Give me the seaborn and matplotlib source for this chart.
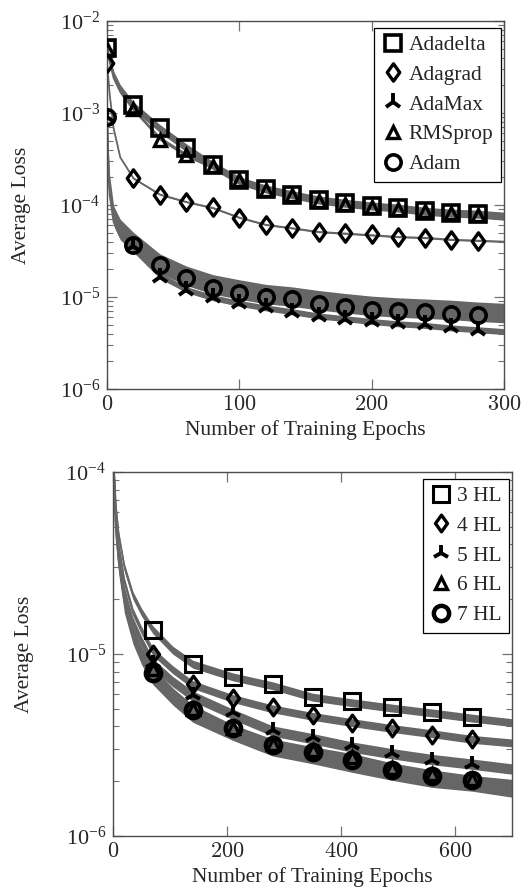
import numpy as np
import pandas as pd
import matplotlib
matplotlib.use("Agg")
import matplotlib.pyplot as plt
import matplotlib.ticker as mticker
from matplotlib.lines import Line2D
from matplotlib.path import Path
import seaborn as sns

# ---- top panel: optimisers ----
ep_top_line = [0, 1, 2, 5, 10, 20, 40, 60, 80, 100, 120, 140, 160, 180, 200, 220, 240, 260, 280, 300]
adadelta_line = [5.1e-3, 4.4e-3, 3.8e-3, 2.6e-3, 1.85e-3, 1.2e-3, 6.8e-4, 4.2e-4, 2.7e-4, 1.85e-4, 1.5e-4, 1.3e-4, 1.14e-4, 1.05e-4, 9.8e-5, 9.3e-5, 8.6e-5, 8.2e-5, 8.0e-5, 7.6e-5]
rmsprop_line = [5.0e-3, 4.2e-3, 3.6e-3, 2.4e-3, 1.7e-3, 1.1e-3, 5.3e-4, 3.5e-4, 2.6e-4, 1.8e-4, 1.45e-4, 1.27e-4, 1.1e-4, 1.02e-4, 9.5e-5, 9.0e-5, 8.4e-5, 8.0e-5, 7.7e-5, 7.3e-5]
adagrad_line = [3.5e-3, 2.4e-3, 1.6e-3, 6.8e-4, 3.3e-4, 1.95e-4, 1.3e-4, 1.08e-4, 9.3e-5, 7.3e-5, 6.1e-5, 5.6e-5, 5.1e-5, 4.9e-5, 4.7e-5, 4.5e-5, 4.4e-5, 4.2e-5, 4.1e-5, 4.0e-5]
adam_line = [9e-4, 3e-4, 1.5e-4, 7e-5, 5e-5, 3.6e-5, 2.1e-5, 1.55e-5, 1.25e-5, 1.1e-5, 9.8e-6, 9.2e-6, 8.4e-6, 7.8e-6, 7.3e-6, 7.0e-6, 6.8e-6, 6.6e-6, 6.3e-6, 6.1e-6]
adamax_line = [9e-4, 2.5e-4, 1.3e-4, 6.5e-5, 4.5e-5, 3.3e-5, 1.7e-5, 1.2e-5, 9.8e-6, 8.5e-6, 7.6e-6, 6.9e-6, 6.2e-6, 5.8e-6, 5.4e-6, 5.1e-6, 4.9e-6, 4.6e-6, 4.4e-6, 4.2e-6]

ep_top_mark = [0, 20, 40, 60, 80, 100, 120, 140, 160, 180, 200, 220, 240, 260, 280]
adadelta_mark = [5.1e-3, 1.23e-3, 6.9e-4, 4.2e-4, 2.7e-4, 1.86e-4, 1.5e-4, 1.29e-4, 1.13e-4, 1.05e-4, 9.8e-5, 9.3e-5, 8.6e-5, 8.2e-5, 8.0e-5]
adagrad_mark = [3.5e-3, 1.95e-4, 1.29e-4, 1.08e-4, 9.5e-5, 7.2e-5, 6.0e-5, 5.6e-5, 5.1e-5, 5.0e-5, 4.9e-5, 4.5e-5, 4.4e-5, 4.2e-5, 4.1e-5]
adamax_mark = [9.0e-4, 3.6e-5, 1.65e-5, 1.2e-5, 9.9e-6, 8.6e-6, 7.8e-6, 6.9e-6, 6.2e-6, 5.8e-6, 5.5e-6, 5.2e-6, 5.1e-6, 4.7e-6, 4.4e-6]
rmsprop_mark = [5.0e-3, 1.1e-3, 5.1e-4, 3.5e-4, 2.65e-4, 1.85e-4, 1.45e-4, 1.27e-4, 1.1e-4, 1.03e-4, 9.6e-5, 9.1e-5, 8.5e-5, 8.1e-5, 7.8e-5]
adam_mark = [9.1e-4, 3.7e-5, 2.2e-5, 1.6e-5, 1.25e-5, 1.1e-5, 9.9e-6, 9.4e-6, 8.4e-6, 7.8e-6, 7.2e-6, 7.0e-6, 6.8e-6, 6.6e-6, 6.3e-6]

# spread of the noisy curves (lower, upper factor)
top_spread = {"Adadelta": (0.9, 1.1), "Adagrad": (0.98, 1.02), "AdaMax": (0.93, 1.08),
              "RMSprop": (0.95, 1.05), "Adam": (0.86, 1.4)}

# ---- bottom panel: hidden layers ----
ep_bot_line = [2, 5, 10, 20, 35, 50, 70, 105, 140, 210, 280, 350, 420, 490, 560, 630, 700]
hl3_line = [1.0e-4, 6.5e-5, 4.5e-5, 3.0e-5, 2.1e-5, 1.7e-5, 1.36e-5, 1.05e-5, 8.8e-6, 7.5e-6, 6.7e-6, 5.8e-6, 5.4e-6, 5.05e-6, 4.75e-6, 4.45e-6, 4.2e-6]
hl4_line = [9.5e-5, 5.8e-5, 3.9e-5, 2.5e-5, 1.7e-5, 1.35e-5, 1.03e-5, 8.2e-6, 6.8e-6, 5.7e-6, 5.0e-6, 4.55e-6, 4.2e-6, 3.9e-6, 3.65e-6, 3.4e-6, 3.25e-6]
hl5_line = [9.0e-5, 5.3e-5, 3.5e-5, 2.2e-5, 1.5e-5, 1.18e-5, 8.9e-6, 7.1e-6, 5.9e-6, 4.7e-6, 3.8e-6, 3.45e-6, 3.1e-6, 2.85e-6, 2.65e-6, 2.5e-6, 2.35e-6]
hl6_line = [8.5e-5, 5.0e-5, 3.3e-5, 2.0e-5, 1.35e-5, 1.05e-5, 8.1e-6, 6.2e-6, 5.0e-6, 3.9e-6, 3.25e-6, 2.95e-6, 2.7e-6, 2.4e-6, 2.2e-6, 2.05e-6, 1.95e-6]
hl7_line = [8.5e-5, 4.8e-5, 3.2e-5, 1.95e-5, 1.32e-5, 1.02e-5, 7.9e-6, 6.1e-6, 4.9e-6, 3.9e-6, 3.2e-6, 2.9e-6, 2.6e-6, 2.35e-6, 2.15e-6, 2.05e-6, 1.9e-6]

ep_bot_mark = [70, 140, 210, 280, 350, 420, 490, 560, 630]
hl3_mark = [1.36e-5, 8.8e-6, 7.5e-6, 6.8e-6, 5.8e-6, 5.5e-6, 5.1e-6, 4.8e-6, 4.5e-6]
hl4_mark = [1.0e-5, 6.8e-6, 5.7e-6, 5.1e-6, 4.6e-6, 4.2e-6, 3.9e-6, 3.6e-6, 3.4e-6]
hl5_mark = [8.9e-6, 5.95e-6, 4.8e-6, 3.8e-6, 3.5e-6, 3.16e-6, 2.85e-6, 2.6e-6, 2.5e-6]
hl6_mark = [8.3e-6, 5.0e-6, 3.9e-6, 3.2e-6, 2.95e-6, 2.7e-6, 2.35e-6, 2.2e-6, 2.05e-6]
hl7_mark = [7.85e-6, 4.9e-6, 3.9e-6, 3.16e-6, 2.9e-6, 2.6e-6, 2.3e-6, 2.14e-6, 2.04e-6]

bot_spread = {"3 HL": (0.95, 1.05), "4 HL": (0.95, 1.05), "5 HL": (0.93, 1.06),
              "6 HL": (0.9, 1.05), "7 HL": (0.86, 1.05)}

sns.set_theme(style="ticks")
plt.rcParams["font.family"] = ["Liberation Serif", "DejaVu Serif"]
plt.rcParams["mathtext.fontset"] = "cm"

grey = "#666666"
diamond = Path([(0, 1), (0.72, 0), (0, -1), (-0.72, 0), (0, 1)],
               [Path.MOVETO, Path.LINETO, Path.LINETO, Path.LINETO, Path.CLOSEPOLY])

fig = plt.figure(figsize=(5.29, 8.96), dpi=100)
ax1 = fig.add_axes([107/529, 1-389/896, (504-107)/529, (389-21)/896])
ax2 = fig.add_axes([113/529, 1-836/896, (512-113)/529, (836-472)/896])

styles_top = [("Adadelta", adadelta_line, adadelta_mark, dict(marker="s", ms=11, mew=2.6)),
              ("Adagrad", adagrad_line, adagrad_mark, dict(marker=diamond, ms=12.5, mew=2.4)),
              ("AdaMax", adamax_line, adamax_mark, dict(marker="2", ms=13, mew=2.8)),
              ("RMSprop", rmsprop_line, rmsprop_mark, dict(marker="^", ms=9, mew=2.4)),
              ("Adam", adam_line, adam_mark, dict(marker="o", ms=11, mew=2.6))]

styles_bot = [("3 HL", hl3_line, hl3_mark, dict(marker="s", ms=11, mew=2.2)),
              ("4 HL", hl4_line, hl4_mark, dict(marker=diamond, ms=12, mew=2.4)),
              ("5 HL", hl5_line, hl5_mark, dict(marker="2", ms=12, mew=2.8)),
              ("6 HL", hl6_line, hl6_mark, dict(marker="^", ms=9, mew=2.4)),
              ("7 HL", hl7_line, hl7_mark, dict(marker="o", ms=11, mew=3.2))]


def draw(ax, ep_line, ep_mark, styles, spread):
    for name, line, mark, st in styles:
        lo, hi = spread[name]
        y = np.array(line)
        ax.fill_between(ep_line, y * lo, y * hi, color=grey, lw=0, zorder=2)
        sns.lineplot(x=ep_line, y=line, ax=ax, color=grey, lw=1.3, zorder=2, sort=False)
    handles = []
    for name, line, mark, st in styles:
        ax.plot(ep_mark, mark, ls="none", color="black", mfc="none", zorder=3, **st)
        handles.append(Line2D([], [], ls="none", color="black", mfc="none", label=name, **st))
    return handles


h1 = draw(ax1, ep_top_line, ep_top_mark, styles_top, top_spread)
h2 = draw(ax2, ep_bot_line, ep_bot_mark, styles_bot, bot_spread)

for ax in (ax1, ax2):
    ax.set_yscale("log")
    ax.yaxis.set_major_locator(mticker.LogLocator(base=10, numticks=10))
    ax.yaxis.set_minor_locator(mticker.LogLocator(base=10, subs=np.arange(2, 10), numticks=10))
    ax.yaxis.set_major_formatter(mticker.LogFormatterMathtext())
    ax.yaxis.set_minor_formatter(mticker.NullFormatter())
    ax.xaxis.set_major_formatter(mticker.FuncFormatter(lambda v, p: f"${v:g}$"))
    ax.tick_params(which="both", direction="in", top=True, right=True, color="0.45",
                   labelsize=16, pad=5)
    ax.tick_params(which="major", length=7, width=0.9)
    ax.tick_params(which="minor", length=4.5, width=0.8)
    for s in ax.spines.values():
        s.set_color("0.3")
        s.set_linewidth(1.0)
    ax.set_ylabel("Average Loss", fontsize=15.5)
    ax.set_xlabel("Number of Training Epochs", fontsize=15.5, labelpad=4)

ax1.yaxis.set_label_coords(-0.192, 0.5)
ax2.yaxis.set_label_coords(-0.198, 0.5)

ax1.set_xlim(0, 300)
ax1.set_ylim(1e-6, 1e-2)
ax1.set_xticks([0, 100, 200, 300])
ax2.set_xlim(0, 700)
ax2.set_ylim(1e-6, 1e-4)
ax2.set_xticks([0, 200, 400, 600])

for ax, h in ((ax1, h1), (ax2, h2)):
    leg = ax.legend(handles=h, loc="upper right", bbox_to_anchor=(0.993, 0.982),
                    borderaxespad=0, fancybox=False, framealpha=1, edgecolor="black",
                    handlelength=1.0, handletextpad=0.25, labelspacing=0.45,
                    borderpad=0.35, fontsize=15.5)
    leg.get_frame().set_linewidth(0.9)

fig.savefig("out.png", dpi=100)
